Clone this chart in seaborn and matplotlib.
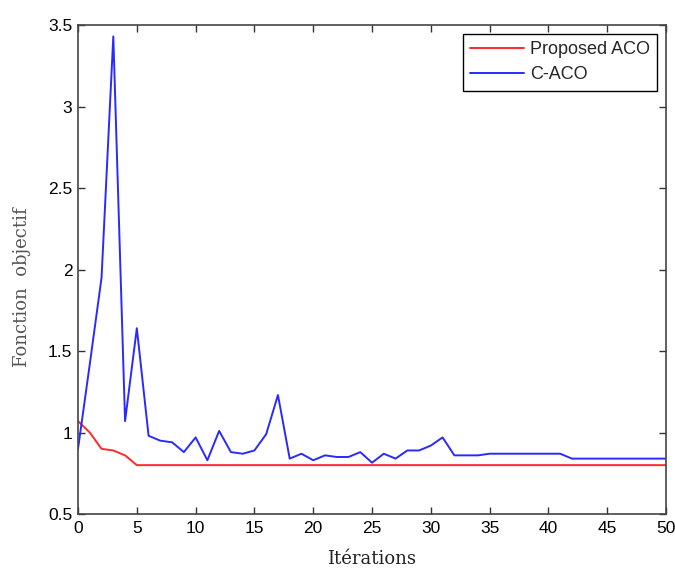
import matplotlib
matplotlib.use("Agg")
import matplotlib.pyplot as plt
import pandas as pd
import seaborn as sns

iterations = list(range(0, 51))
proposed_aco = [1.07, 1.00, 0.90, 0.89, 0.86, 0.80] + [0.80] * 45
c_aco = [0.90, 1.42, 1.95, 3.43, 1.07, 1.64, 0.98, 0.95, 0.94, 0.88,
         0.97, 0.83, 1.01, 0.88, 0.87, 0.89, 0.99, 1.23, 0.84, 0.87,
         0.83, 0.86, 0.85, 0.85, 0.88, 0.815, 0.87, 0.84, 0.89, 0.89,
         0.92, 0.97, 0.86, 0.86, 0.86, 0.87, 0.87, 0.87, 0.87, 0.87,
         0.87, 0.87, 0.84, 0.84, 0.84, 0.84, 0.84, 0.84, 0.84, 0.84, 0.84]
series_names = ["Proposed ACO", "C-ACO"]

sns.set_theme(style="ticks")
plt.rcParams['font.family'] = ['Liberation Sans', 'DejaVu Sans']

df = pd.DataFrame({
    "iter": iterations * 2,
    "value": proposed_aco + c_aco,
    "algo": [series_names[0]] * len(iterations) + [series_names[1]] * len(iterations),
})

fig = plt.figure(figsize=(6.75, 5.68), dpi=100)
ax = fig.add_axes([0.1156, 0.095, 0.8711, 0.861])
sns.lineplot(data=df, x="iter", y="value", hue="algo", hue_order=series_names,
             palette={"Proposed ACO": "#ff2a2a", "C-ACO": "#2a2aff"},
             linewidth=1.4, ax=ax)

ax.set_xlim(0, 50)
ax.set_ylim(0.5, 3.5)
ax.set_xticks(range(0, 51, 5))
ax.set_yticks([0.5, 1, 1.5, 2, 2.5, 3, 3.5])
ax.set_yticklabels(["0.5", "1", "1.5", "2", "2.5", "3", "3.5"])
ax.tick_params(direction="in", top=True, right=True, length=5, width=1,
               labelsize=12.5, colors="#333333", labelcolor="black")
ax.tick_params(axis="x", pad=5)
ax.tick_params(axis="y", pad=4)
for s in ax.spines.values():
    s.set_color("#444444")
    s.set_linewidth(1.2)

serif = ["DejaVu Serif", "Liberation Serif"]
ax.set_xlabel("Itérations", family=serif, fontsize=13, color="#222222")
ax.set_ylabel("Fonction  objectif", family=serif, fontsize=13, color="#555555")
ax.xaxis.set_label_coords(0.5, -0.073)
ax.yaxis.set_label_coords(-0.08, 0.464)

leg = ax.legend(loc="upper right", fontsize=13, frameon=True, fancybox=False,
                edgecolor="black", framealpha=1, handlelength=3.0,
                borderaxespad=0.5, labelspacing=0.45, handletextpad=0.3)
leg.get_frame().set_linewidth(1.0)

fig.savefig("out.png", dpi=100)
